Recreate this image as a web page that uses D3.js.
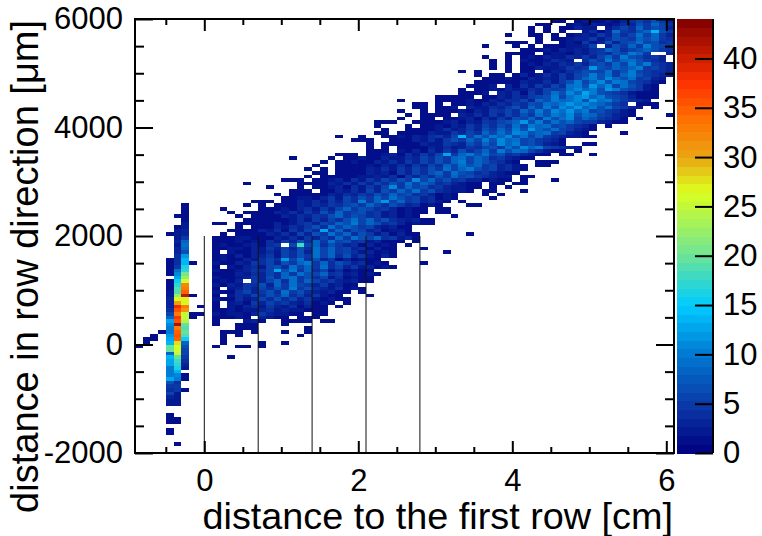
<!DOCTYPE html>
<html>
<head>
<meta charset="utf-8">
<script src="https://cdn.jsdelivr.net/npm/d3@7"></script>
<style>
  body { margin: 0; background: #fff; }
  text { font-family: "Liberation Sans", Arial, sans-serif; fill: #000; }
  .tick line { stroke: #000; stroke-width: 2px; }
  .tick text { font-size: 31px; fill: #000; }
  .domain { display: none; }
</style>
</head>
<body>
<div id="chart"></div>
<script>
// histogram bins
var xBinCount = 70;
var yBinCount = 120;
var xRange = [-0.9, 6.1];
var yRange = [-2000, 6000];
var zMax = 44;

// main band, one string per row from the top, one base 36 character per bin, "." = empty
var bandFirstBin = [54, 52, 51, 51, 48, 52, 48, 45, 50, 48,
  45, 46, 46, 46, 42, 44, 45, 44, 43, 42,
  42, 41, 40, 36, 37, 34, 35, 34, 31, 31,
  32, 31, 26, 28, 30, 30, 30, 26, 25, 24,
  23, 22, 23, 22, 19, 14, 17, 20, 18, 19,
  15, 14, 11, 12, 13, 14, 10, 13, 12, 11,
  10, 10, 10, 10, 10, 10, 10, 10, 10, 10,
  10, 10, 10, 10, 10, 10, 10, 10, 10, 10,
  10, 10, 10, 10, 10, 13, 11, 11, 11, 11,
  10, 0, 0, 12];
var bandCells = [
  "11.1211213464753",
  "11..12132124375864",
  "1.1.11322.246485763",
  "1.1.1..241395478e75",
  "1..11.1.12325374696853",
  "1.1123352476587854",
  "111.1..121523736796745",
  "1...1.1.1112236.37585a765",
  "11121323245874678754",
  "1111.12213245476a85..3",
  "1..1.1213224353685a76453",
  "1.1.2112432.475a6897543.",
  "1.1.12132435367586a7a543",
  "1.1.113223545c76878a5643",
  "1.1...1.11.13245766957a65443",
  "1.11.1312425367a7958a75432",
  "111211323253 68a7b8795632".replace(" ", ""),
  "11111132242 57a68b7a965421".replace(" ", ""),
  "1112.314253649a7c8b697521",
  "1.1121322436569b8a7ca76521",
  "1112.324153697b8da76542111",
  "111.113243567a69bc8a7653111",
  "111211324 46387a89b7c9a75432".replace(" ", ""),
  "11.1.11213243547698acab98754.111",
  "1.112.3224357486a7b9c8a796532.1",
  "1..1.1112132546486a7b9c8a675421",
  "1.1111.324253647597a8b79865321",
  "1..11.1123142537685a79b6875431",
  "111..11112313254678c7a69786553211",
  "1...1.11213253647596a89675431.1",
  "1..1111 2423537586a7c87965321".replace(" ", ""),
  "11.11113225364 8697ba78956321".replace(" ", ""),
  "1..1..1121324536e697a8b79685432211",
  "111..111 324257586a7b89675431".replace(" ", ""),
  "1.111113225437586b8a675321..11",
  "1.1.1111324235467597b8a65432",
  "111.2131425374685a79864211.1",
  "111.1123142536d58a7967453211.11",
  "1.112113 2243647589687453211".replace(" ", ""),
  "1.112113 2425364758a6875421..111".replace(" ", ""),
  "1..1111213242536486978563421.11",
  "1.1.1111 3242536475968a7563421".replace(" ", ""),
  "11.11113 2315364785976453211".replace(" ", ""),
  "1.1111122324153647586754322.11",
  "111.1123142536475b685745331211.1...1",
  "1......1111 32425364759687453211.11.11".replace(" ", ""),
  "1...1.1123142536b58674532211.1.1",
  "111.11 324263758695743221.11...1".replace(" ", ""),
  "1.111113 2435475867453121...1.1".replace(" ", ""),
  "112213 52647586975634121....1".replace(" ", ""),
  "111.1132425364a58c68563421.1",
  "1.1.111 3243546758647534121...11".replace(" ", ""),
  "1....1112134253685764531211.11",
  "1.111132425374856745231211.11",
  "1.1111324354785764523121....1",
  "1111112425364796857432311",
  "11.111113124536587a6874531211",
  "1.11132435749687 5632311".replace(" ", ""),
  "11113241536 4d58476341221".replace(" ", ""),
  "1.111132426375968475241311......1",
  "1112211132425364859768452 31".replace(" ", ""),
  "1112121425374859674523111.1",
  "121123145.6i684753413121.1",
  "1122132536374968563 41311...1".replace(" ", ""),
  "1.21132426473968 56423121......1".replace(" ", ""),
  "1213133526475968473521311".slice(0, 24),
  "121132464c694735131211",
  "211325463758a5847534121....1",
  "1.2134267496859463523121",
  "21123546d7a5846241211",
  "11132436485 97684523121".replace(" ", ""),
  "211235374895746241211",
  "1213.5368495864532311",
  "2132547385965352311",
  "1.23536475a574324121",
  "211463574957432311.1",
  "1.243647584635211...1",
  "211423647463521211",
  "1.23153645324121.1",
  "1.2134253241311.1",
  "112122342322111",
  "212213532211.11",
  "11121.3211.111",
  "1...231..1111.11",
  "1..111...1",
  "111......1",
  "111.1...1..1",
  "1.1.......1",
  "1",
  "1....1..1",
  "1..11.1",
  "",
  "",
  "1"
];

// the narrow strip left of the first row, counts per row starting at stripFirstRow
var stripFirstRow = 51;
var stripBins = [4, 5, 6];
var stripBin4 = [0, 0, 0, 0, 0, 0, 0, 0, 1, 0, 0, 0, 0, 0, 0, 1, 1, 1, 1, 1, 0, 1, 1, 1, 2, 2, 3, 3, 3, 4, 6, 8, 13, 11, 10, 10, 12, 13, 14, 20, 20, 8, 14, 13, 13, 10, 10, 10, 13, 7, 5, 4, 6, 3, 2, 2, 0, 0, 1, 1, 1, 0, 1, 1];
var stripBin5 = [0, 0, 0, 1, 0, 0, 1, 2, 2, 2, 3, 2, 3, 3, 4, 4, 4, 5, 9, 11, 13, 15, 17, 19, 19, 22, 27, 30, 38, 36, 33, 37, 36, 42, 33, 35, 36, 35, 28, 26, 26, 25, 20, 18, 17, 16, 14, 11, 10, 4, 5, 5, 2, 2, 2, 2, 0, 0, 0, 1, 1, 0, 0, 0, 0, 0, 1];
var stripBin6 = [1, 1, 1, 1, 1, 2, 2, 3, 3, 5, 8, 9, 8, 7, 12, 14, 14, 16, 17, 21, 22, 26, 32, 33, 35, 41, 27, 27, 33, 31, 25, 25, 24, 20, 19, 20, 19, 15, 8, 7, 6, 6, 5, 4, 3, 2, 0, 1, 1, 0, 0, 1];

// single entries outside the band
var strayBin = [0, 1, 1, 2, 2, 3, 7, 7, 8, 7, 8, 7, 69, 34, 39, 40, 39, 36, 63, 65, 59, 20];
var strayRow = [90, 89, 88, 88, 87, 86, 67, 76, 79, 81, 81, 82, 26, 22, 21, 21, 22, 24, 31, 27, 37, 38];

// vertical marks for the rows
var rowLinesX = [0, 0.7, 1.4, 2.1, 2.8];
var rowLineTop = 2000;

var xMajor = [0, 2, 4, 6];
var xMinor = [-0.5, 0.5, 1, 1.5, 2.5, 3, 3.5, 4.5, 5, 5.5];
var yMajor = [-2000, 0, 2000, 4000, 6000];
var yMinor = [-1500, -1000, -500, 500, 1000, 1500, 2500, 3000, 3500, 4500, 5000, 5500];
var zTicks = [0, 5, 10, 15, 20, 25, 30, 35, 40];

var paletteStops = [0, 5, 10, 15, 21, 26.5, 30, 34, 37.5, 44];
var paletteColors = ["#00007f", "#0a3aa8", "#0078d2", "#00ccff", "#7fe884", "#dcff1e", "#eaa514", "#ff6e00", "#ff3200", "#7f0000"];

var svgWidth = 762;
var svgHeight = 536;
var margin = { top: 19, right: 88, bottom: 83, left: 135 };
var width = svgWidth - margin.left - margin.right;
var height = svgHeight - margin.top - margin.bottom;

var svg = d3.select("#chart")
  .append("svg")
  .attr("width", svgWidth)
  .attr("height", svgHeight)
  .style("display", "block");

var chartGroup = svg.append("g")
  .attr("transform", `translate(${margin.left}, ${margin.top})`);

var xScale = d3.scaleLinear().domain(xRange).range([0, width]);
var yScale = d3.scaleLinear().domain(yRange).range([height, 0]);
var xBinWidth = (xRange[1] - xRange[0]) / xBinCount;
var yBinHeight = (yRange[1] - yRange[0]) / yBinCount;

// palette has 50 flat steps like the colour bar
var zColor = d3.scaleLinear().domain(paletteStops).range(paletteColors).clamp(true);
var zSteps = 50;
function stepColor(v) {
  var s = Math.min(zSteps - 1, Math.floor(v / zMax * zSteps));
  return zColor((s + 0.5) * zMax / zSteps);
}

// collect the cells
var cells = [];
bandCells.forEach(function (str, row) {
  str.split("").forEach(function (c, i) {
    var bin = bandFirstBin[row] + i;
    if (c !== "." && bin < xBinCount) {
      cells.push({ bin: bin, row: row, count: parseInt(c, 36) });
    }
  });
});
[stripBin4, stripBin5, stripBin6].forEach(function (list, n) {
  list.forEach(function (count, i) {
    if (count > 0) {
      cells.push({ bin: stripBins[n], row: stripFirstRow + i, count: count });
    }
  });
});
strayBin.forEach(function (bin, i) {
  cells.push({ bin: bin, row: strayRow[i], count: 1 });
});

chartGroup.selectAll("rect.cell")
  .data(cells)
  .enter()
  .append("rect")
  .attr("class", "cell")
  .attr("x", d => xScale(xRange[0] + d.bin * xBinWidth))
  .attr("y", d => yScale(yRange[1] - d.row * yBinHeight))
  .attr("width", xScale(xBinWidth) - xScale(0))
  .attr("height", yScale(0) - yScale(yBinHeight))
  .attr("fill", d => stepColor(d.count))
  .attr("shape-rendering", "crispEdges");

chartGroup.selectAll("line.rowline")
  .data(rowLinesX)
  .enter()
  .append("line")
  .attr("class", "rowline")
  .attr("x1", d => xScale(d))
  .attr("x2", d => xScale(d))
  .attr("y1", yScale(rowLineTop))
  .attr("y2", height)
  .attr("stroke", "#111")
  .attr("stroke-width", 1);

// axes, ticks point inwards on all four sides
function noLabel() { return ""; }
function plainLabel(d) { return String(d); }

chartGroup.append("g")
  .attr("transform", `translate(0, ${height})`)
  .call(d3.axisBottom(xScale).tickValues(xMajor).tickSize(-12).tickPadding(16).tickFormat(plainLabel));
chartGroup.append("g")
  .attr("transform", `translate(0, ${height})`)
  .call(d3.axisBottom(xScale).tickValues(xMinor).tickSize(-6).tickFormat(noLabel));
chartGroup.append("g")
  .call(d3.axisTop(xScale).tickValues(xMajor).tickSize(-12).tickFormat(noLabel));
chartGroup.append("g")
  .call(d3.axisTop(xScale).tickValues(xMinor).tickSize(-6).tickFormat(noLabel));

chartGroup.append("g")
  .call(d3.axisLeft(yScale).tickValues(yMajor).tickSize(-18).tickPadding(12).tickFormat(plainLabel));
chartGroup.append("g")
  .call(d3.axisLeft(yScale).tickValues(yMinor).tickSize(-9).tickFormat(noLabel));
chartGroup.append("g")
  .attr("transform", `translate(${width}, 0)`)
  .call(d3.axisRight(yScale).tickValues(yMajor).tickSize(-18).tickFormat(noLabel));
chartGroup.append("g")
  .attr("transform", `translate(${width}, 0)`)
  .call(d3.axisRight(yScale).tickValues(yMinor).tickSize(-9).tickFormat(noLabel));

chartGroup.append("rect")
  .attr("width", width)
  .attr("height", height)
  .attr("fill", "none")
  .attr("stroke", "#000")
  .attr("stroke-width", 2);

// colour bar
var barLeft = 677 - margin.left;
var barRight = 713 - margin.left;
var zScale = d3.scaleLinear().domain([0, zMax]).range([height, 0]);

chartGroup.selectAll("rect.step")
  .data(d3.range(zSteps))
  .enter()
  .append("rect")
  .attr("class", "step")
  .attr("x", barLeft)
  .attr("width", barRight - barLeft)
  .attr("y", d => zScale((d + 1) * zMax / zSteps))
  .attr("height", zScale(0) - zScale(zMax / zSteps) + 0.5)
  .attr("fill", d => stepColor((d + 0.5) * zMax / zSteps))
  .attr("shape-rendering", "crispEdges");

chartGroup.append("line")
  .attr("x1", barRight)
  .attr("x2", barRight)
  .attr("y1", 0)
  .attr("y2", height)
  .attr("stroke", "#000")
  .attr("stroke-width", 2);

chartGroup.append("g")
  .attr("transform", `translate(${barRight}, 0)`)
  .call(d3.axisRight(zScale).tickValues(zTicks).tickSize(-18).tickPadding(10).tickFormat(plainLabel));

// axis titles
svg.append("text")
  .attr("x", 673)
  .attr("y", 529)
  .attr("text-anchor", "end")
  .style("font-size", "37.8px")
  .text("distance to the first row [cm]");

svg.append("text")
  .attr("transform", "translate(38, 20) rotate(-90)")
  .attr("text-anchor", "end")
  .style("font-size", "38px")
  .text("distance in row direction [μm]");
</script>
</body>
</html>
